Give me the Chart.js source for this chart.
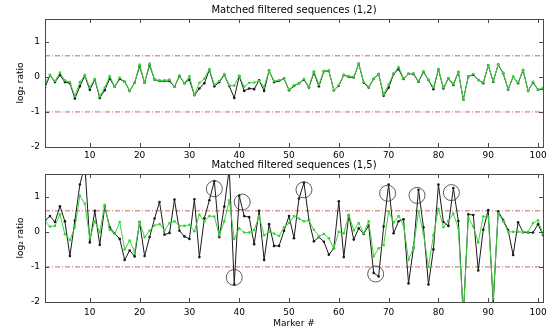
<!DOCTYPE html>
<html>
<head>
<meta charset="utf-8">
<script src="https://cdn.jsdelivr.net/npm/chart.js@4.4.1/dist/chart.umd.min.js"></script>
<style>
  body { margin: 0; background: #fff; }
  #wrap { position: relative; width: 556px; height: 329px; overflow: hidden; }
  .pane { position: absolute; left: 0; }
</style>
</head>
<body>
<div id="wrap">
  <div class="pane" style="top:0"><canvas id="chart12" width="556" height="162"></canvas></div>
  <div class="pane" style="top:160px"><canvas id="chart15" width="556" height="169"></canvas></div>
</div>
<script>
// marker numbers along the x axis
const markers = Array.from({ length: 101 }, (_, i) => i + 1);
const xTicks = [10, 20, 30, 40, 50, 60, 70, 80, 90, 100];
const yTicks = [-2, -1, 0, 1];
const thresholds = [0.6, -1];

// sequence (1,2)
const seq12Black = [
  -0.30, 0.05, -0.15, 0.05, -0.15, -0.18, -0.62, -0.27, 0.03, -0.37,
  -0.08, -0.60, -0.38, -0.05, -0.28, -0.06, -0.14, -0.40, -0.17, 0.30,
  -0.17, 0.33, -0.08, -0.12, -0.12, -0.12, -0.28, 0.02, -0.18, -0.08,
  -0.52, -0.33, -0.18, 0.20, -0.27, -0.15, 0.06, -0.26, -0.60, 0.02,
  -0.40, -0.33, -0.35, -0.10, -0.40, 0.18, -0.15, -0.12, -0.05, -0.38,
  -0.26, -0.18, -0.08, -0.30, 0.12, -0.27, 0.16, 0.17, -0.38, -0.25,
  0.05, 0.00, -0.02, 0.37, -0.17, -0.30, -0.06, 0.08, -0.54, -0.31,
  0.08, 0.22, -0.06, 0.09, 0.08, -0.14, 0.14, -0.09, -0.35, 0.21,
  -0.33, -0.04, -0.23, 0.14, -0.65, 0.01, 0.06, -0.09, -0.18, 0.33,
  -0.14, 0.35, 0.10, -0.36, 0.00, -0.18, 0.19, -0.40, -0.16, -0.37,
  -0.34
];
const seq12Green = [
  -0.20, 0.05, -0.12, 0.12, -0.10, -0.15, -0.55, -0.15, 0.05, -0.30,
  -0.06, -0.55, -0.30, 0.02, -0.28, -0.02, -0.14, -0.40, -0.17, 0.35,
  -0.17, 0.38, -0.08, -0.10, -0.10, -0.08, -0.28, 0.04, -0.18, 0.02,
  -0.52, -0.17, -0.05, 0.22, -0.22, -0.12, 0.08, -0.24, -0.25, 0.03,
  -0.28, -0.17, -0.16, -0.12, -0.28, 0.18, -0.12, -0.10, -0.05, -0.36,
  -0.24, -0.18, -0.06, -0.28, 0.16, -0.22, 0.17, 0.18, -0.38, -0.23,
  0.06, 0.02, 0.00, 0.38, -0.15, -0.28, -0.05, 0.08, -0.50, -0.22,
  0.10, 0.28, -0.04, 0.09, 0.10, -0.12, 0.16, -0.09, -0.30, 0.22,
  -0.30, -0.04, -0.20, 0.14, -0.65, 0.01, 0.08, -0.09, -0.16, 0.33,
  -0.12, 0.35, 0.12, -0.34, 0.00, -0.16, 0.20, -0.40, -0.14, -0.36,
  -0.32
];

// sequence (1,5)
const seq15Black = [
  0.32, 0.45, 0.28, 0.73, 0.30, -0.69, 0.32, 1.35, 1.90, -0.30,
  0.60, -0.37, 0.72, 0.13, -0.05, -0.20, -0.80, -0.53, -0.70, 0.28,
  -0.69, -0.15, 0.38, 0.85, -0.08, -0.03, 0.92, 0.03, -0.13, -0.20,
  0.93, -0.72, 0.39, 0.90, 1.45, -0.15, 0.72, 1.80, -1.50, 1.03,
  0.45, 0.42, -0.35, 0.60, -0.80, 0.22, -0.40, -0.40, 0.03, 0.45,
  -0.18, 0.95, 1.40, 0.33, -0.27, -0.15, -0.28, -0.65, -0.47, 0.87,
  -0.72, 0.47, -0.22, 0.10, -0.06, 0.18, -1.17, -1.27, 0.15, 1.35,
  -0.04, 0.30, 0.36, -1.47, -0.45, 1.20, 0.13, -1.50, -0.50, 1.35,
  0.28, 0.17, 1.25, 0.31, -2.40, 0.50, 0.48, -1.10, 0.06, 0.62,
  -2.05, 0.58, 0.34, 0.05, -0.66, 0.27, -0.01, -0.02, -0.02, 0.22,
  -0.09
];
const seq15Green = [
  0.30, 0.15, 0.17, 0.50, -0.07, -0.23, 0.13, 1.03, 0.80, -0.18,
  0.30, -0.01, 0.77, 0.06, -0.06, 0.28, -0.50, -0.25, -0.56, 0.27,
  -0.15, 0.03, 0.18, 0.22, 0.05, 0.25, 0.30, 0.17, 0.17, 0.20,
  0.02, 0.49, 0.30, 0.45, 0.44, -0.10, 0.30, 0.90, -0.20, 0.10,
  -0.02, -0.02, 0.05, 0.45, -0.10, 0.00, -0.05, -0.12, 0.13, 0.25,
  0.45, 0.38, 0.30, 0.32, 0.06, -0.13, -0.06, -0.18, -0.47, 0.00,
  -0.04, 0.49, 0.04, 0.25, -0.04, 0.30, -0.70, -0.47, -0.38, 0.58,
  0.27, 0.45, 0.20, -0.80, -0.45, 0.58, -0.05, -1.00, -0.10, 0.66,
  0.13, 0.32, 0.52, 0.10, -2.40, 0.40, 0.15, -0.30, 0.44, 0.44,
  -1.90, 0.53, 0.30, 0.00, 0.00, 0.00, 0.00, 0.00, 0.25, 0.33,
  -0.06
];

// circled outliers in sequence (1,5)
const circleX = [35, 39, 40.6, 53, 67.4, 69.8, 75.7, 82.6];
const circleY = [1.23, -1.3, 0.85, 1.2, -1.2, 1.1, 1.04, 1.12];

Chart.defaults.font.family = "'DejaVu Sans', sans-serif";
Chart.defaults.font.size = 9;
Chart.defaults.color = '#000';

const framePlugin = {
  id: 'frame',
  afterDatasetsDraw(chart, args, opts) {
    const { ctx, chartArea: a, scales: { x, y } } = chart;
    ctx.save();
    ctx.strokeStyle = '#4a4a4a';
    ctx.lineWidth = 1;
    ctx.strokeRect(Math.round(a.left) + 0.5, Math.round(a.top) + 0.5,
      Math.round(a.right - a.left), Math.round(a.bottom - a.top));
    ctx.beginPath();
    x.ticks.forEach(t => {
      const px = Math.round(x.getPixelForValue(t.value)) + 0.5;
      ctx.moveTo(px, a.bottom); ctx.lineTo(px, a.bottom - 4);
      ctx.moveTo(px, a.top); ctx.lineTo(px, a.top + 4);
    });
    y.ticks.forEach(t => {
      const py = Math.round(y.getPixelForValue(t.value)) + 0.5;
      ctx.moveTo(a.left, py); ctx.lineTo(a.left + 4, py);
      ctx.moveTo(a.right, py); ctx.lineTo(a.right - 4, py);
    });
    ctx.stroke();
    ctx.fillStyle = '#000';
    ctx.font = "10px 'DejaVu Sans', sans-serif";
    ctx.textAlign = 'center';
    ctx.textBaseline = 'middle';
    ctx.fillText(opts.text, (a.left + a.right) / 2, opts.y);
    ctx.restore();
  }
};

function toPoints(values) {
  return values.map((v, i) => ({ x: markers[i], y: v }));
}

function thresholdSets() {
  return thresholds.map(t => ({
    data: [{ x: markers[0], y: t }, { x: markers[markers.length - 1], y: t }],
    borderColor: '#c06a6a',
    borderWidth: 1,
    borderDash: [5, 2, 1, 2],
    pointRadius: 0,
    order: 5
  }));
}

function seriesSet(values, color, order) {
  return {
    data: toPoints(values),
    borderColor: color,
    borderWidth: 1,
    pointRadius: 1.3,
    pointBorderWidth: 0,
    pointBackgroundColor: color,
    tension: 0,
    order: order
  };
}

function makeChart(id, title, titleY, black, green, padTop, xHeight, xPad, showXTitle, extra) {
  const ctx = document.getElementById(id).getContext('2d');
  return new Chart(ctx, {
    type: 'line',
    data: {
      datasets: [
        seriesSet(green, '#3ad23a', 2),
        seriesSet(black, '#1a1a1a', 3),
        ...thresholdSets(),
        ...extra
      ]
    },
    options: {
      responsive: false,
      animation: false,
      events: [],
      layout: { padding: { top: padTop, right: 13, left: 0, bottom: 0 } },
      plugins: {
        legend: { display: false },
        tooltip: { enabled: false },
        frame: { text: title, y: titleY }
      },
      scales: {
        x: {
          type: 'linear',
          min: 1,
          max: 101,
          grid: { display: false, drawTicks: false },
          border: { display: false },
          afterBuildTicks: s => { s.ticks = xTicks.map(v => ({ value: v })); },
          afterFit: s => { s.height = xHeight; },
          ticks: { padding: xPad, maxRotation: 0 },
          title: {
            display: showXTitle,
            text: 'Marker #',
            padding: { top: 0, bottom: 0 }
          }
        },
        y: {
          min: -2,
          max: 1.65,
          grid: { display: false, drawTicks: false },
          border: { display: false },
          afterBuildTicks: s => { s.ticks = yTicks.map(v => ({ value: v })); },
          afterFit: s => { s.width = 45; },
          ticks: { padding: 5 },
          title: {
            display: true,
            text: 'log\u2082 ratio',
            padding: { top: 15, bottom: 0 }
          }
        }
      }
    },
    plugins: [framePlugin]
  });
}

makeChart('chart12', 'Matched filtered sequences (1,2)', 10,
  seq12Black, seq12Green, 19, 15, 3, false, []);

makeChart('chart15', 'Matched filtered sequences (1,5)', 5,
  seq15Black, seq15Green, 14, 27, 5, true, [{
    data: circleX.map((cx, i) => ({ x: cx, y: circleY[i] })),
    showLine: false,
    pointRadius: 8,
    pointBorderWidth: 0.8,
    pointBorderColor: '#333',
    pointBackgroundColor: 'rgba(0,0,0,0)',
    order: 1
  }]);
</script>
</body>
</html>
